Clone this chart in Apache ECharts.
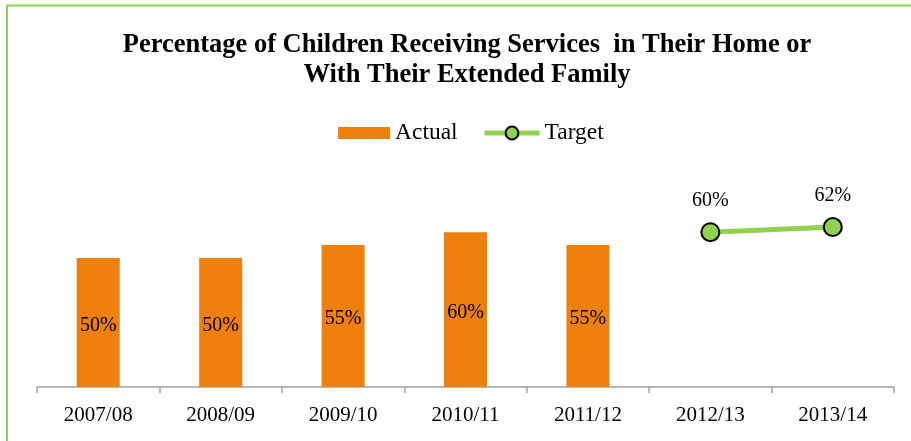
<!DOCTYPE html>
<html>
<head>
<meta charset="utf-8">
<script src="https://cdn.jsdelivr.net/npm/echarts@6/dist/echarts.min.js"></script>
<style>
html,body{margin:0;padding:0;background:#fff;}
#chart{width:911px;height:441px;}
</style>
</head>
<body>
<div id="chart"></div>
<script>
var categories = ['2007/08','2008/09','2009/10','2010/11','2011/12','2012/13','2013/14'];
var actualValues = [50, 50, 55, 60, 55, null, null];
var targetValues = [null, null, null, null, null, 60, 62];
var titleText = 'Percentage of Children Receiving Services  in Their Home or\nWith Their Extended Family';

var serif = '"Liberation Serif", "Times New Roman", serif';
var chart = echarts.init(document.getElementById('chart'));
chart.setOption({
  animation: false,
  backgroundColor: '#ffffff',
  graphic: [{
    type: 'rect',
    shape: {x: 7, y: 5.5, width: 1000, height: 1000},
    style: {fill: 'none', stroke: '#92D050', lineWidth: 2},
    silent: true
  }],
  title: {
    text: titleText,
    left: 462,
    textAlign: 'center',
    top: 25,
    textStyle: {fontFamily: serif, fontWeight: 'bold', fontSize: 26.5, lineHeight: 30, color: '#000'}
  },
  legend: [{
    top: 116,
    left: 333,
    itemWidth: 52,
    itemHeight: 12,
    textStyle: {fontFamily: serif, fontSize: 23.5, color: '#000'},
    data: [{name: 'Actual', icon: 'rect'}]
  }, {
    top: 116,
    left: 477,
    itemWidth: 55,
    itemHeight: 16,
    lineStyle: {width: 5, color: '#92D050'},
    itemStyle: {color: '#92D050', borderColor: '#000', borderWidth: 2},
    textStyle: {fontFamily: serif, fontSize: 23.5, color: '#000'},
    data: [{name: 'Target'}]
  }],
  grid: {left: 37, right: 17, top: 129, bottom: 54, containLabel: false},
  xAxis: {
    type: 'category',
    data: categories,
    boundaryGap: true,
    axisLine: {lineStyle: {color: '#A0A0A0', width: 1.5}},
    axisTick: {show: true, length: 6, alignWithLabel: false, lineStyle: {color: '#A0A0A0', width: 1.5}},
    axisLabel: {fontFamily: serif, fontSize: 21, color: '#000', margin: 18, interval: 0}
  },
  yAxis: {
    type: 'value', min: 0, max: 100, show: false,
    splitLine: {show: false}
  },
  series: [{
    name: 'Actual',
    type: 'bar',
    data: actualValues,
    barWidth: 43,
    itemStyle: {color: '#EF800B'},
    label: {show: true, position: 'inside', offset: [0, 3], formatter: '{c}%', fontFamily: serif, fontSize: 20, color: '#000'}
  }, {
    name: 'Target',
    type: 'line',
    data: targetValues,
    symbol: 'circle',
    symbolSize: 18,
    lineStyle: {color: '#92D050', width: 5},
    itemStyle: {color: '#92D050', borderColor: '#000', borderWidth: 2},
    label: {show: true, position: 'top', distance: 11, formatter: '{c}%', fontFamily: serif, fontSize: 20, color: '#000'}
  }]
});
</script>
</body>
</html>
